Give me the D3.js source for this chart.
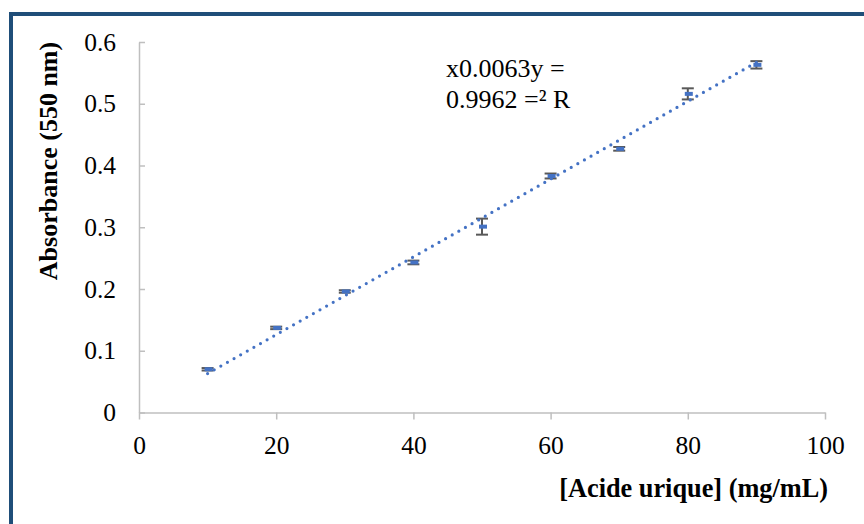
<!DOCTYPE html>
<html>
<head>
<meta charset="utf-8">
<script src="https://cdn.jsdelivr.net/npm/d3@7"></script>
<style>
  body { margin: 0; background: #fff; }
  svg { display: block; font-family: "Liberation Serif", "Times New Roman", serif; }
</style>
</head>
<body>
<svg></svg>
<script>
// calibration: uric acid concentration vs absorbance at 550 nm

let concentration = [10, 20, 30, 40, 50, 60, 70, 80, 90];
let absorbance    = [0.070, 0.137, 0.196, 0.243, 0.301, 0.383, 0.427, 0.516, 0.563];
let errors        = [0.002, 0.002, 0.002, 0.003, 0.013, 0.004, 0.003, 0.009, 0.006];

// linear trendline end points (y = 0.0063x)
let trendX = [10, 90],
    trendY = [0.063, 0.567];

let xTicks      = [0, 20, 40, 60, 80, 100],
    yTicks      = [0, 0.1, 0.2, 0.3, 0.4, 0.5, 0.6],
    yTickLabels = ['0', '0.1', '0.2', '0.3', '0.4', '0.5', '0.6'];

let equation = ['x0.0063y =', '0.9962 =\u00b2 R'];

let width  = 864,
    height = 524;

let xScale = d3.scaleLinear()
               .domain([0, 100])
               .range([139, 825]),
    yScale = d3.scaleLinear()
               .domain([0, 0.6])
               .range([412.5, 42]);

let svg = d3.select('svg')
    .attr('width', width)
    .attr('height', height);

//Frame
svg.append('rect')
    .attr('x', 11)
    .attr('y', 14)
    .attr('width', width + 20)
    .attr('height', height + 20)
    .attr('fill', '#fff')
    .attr('stroke', '#1f4e79')
    .attr('stroke-width', 4);

//X Axis
let xAxis = d3.axisBottom(xScale)
    .tickValues(xTicks)
    .tickFormat(d => d)
    .tickSize(7)
    .tickPadding(16)
    .tickSizeOuter(0);

let gx = svg.append('g')
    .attr('transform', `translate(0, ${yScale(0)})`)
    .call(xAxis);

//Y Axis (ticks point inwards)
let yAxis = d3.axisLeft(yScale)
    .tickValues(yTicks)
    .tickFormat((d, i) => yTickLabels[i])
    .tickSize(-6)
    .tickPadding(23)
    .tickSizeOuter(0);

let gy = svg.append('g')
    .attr('transform', `translate(${xScale(0)}, 0)`)
    .call(yAxis);

[gx, gy].forEach(g => {
  g.attr('font-family', null).attr('font-size', null);
  g.select('.domain').attr('stroke', '#bfbfbf').attr('stroke-width', 1.5);
  g.selectAll('.tick line').attr('stroke', '#bfbfbf').attr('stroke-width', 1.5);
  g.selectAll('.tick text')
    .attr('fill', '#000')
    .attr('font-family', 'Liberation Serif, serif')
    .attr('font-size', 25.5);
});

//Error bars
let data = concentration.map((c, i) => ({ x: c, y: absorbance[i], e: errors[i] }));

let bars = svg.append('g')
    .attr('stroke', '#595959')
    .attr('stroke-width', 2)
  .selectAll('g')
  .data(data)
  .enter()
  .append('g');

bars.append('line')
    .attr('x1', d => xScale(d.x))
    .attr('x2', d => xScale(d.x))
    .attr('y1', d => yScale(d.y + d.e))
    .attr('y2', d => yScale(d.y - d.e));

bars.append('line')
    .attr('x1', d => xScale(d.x) - 6)
    .attr('x2', d => xScale(d.x) + 6)
    .attr('y1', d => yScale(d.y + d.e))
    .attr('y2', d => yScale(d.y + d.e));

bars.append('line')
    .attr('x1', d => xScale(d.x) - 6)
    .attr('x2', d => xScale(d.x) + 6)
    .attr('y1', d => yScale(d.y - d.e))
    .attr('y2', d => yScale(d.y - d.e));

//Markers (short dashes)
svg.append('g')
  .selectAll('rect')
  .data(data)
  .enter()
  .append('rect')
    .attr('x', d => xScale(d.x) - 3)
    .attr('y', d => yScale(d.y) - 2)
    .attr('width', 8)
    .attr('height', 4)
    .attr('fill', '#4472c4');

//Trendline (dotted)
let trend = trendX.map((x, i) => [x, trendY[i]]);

svg.append('path')
    .datum(trend)
    .attr('d', d3.line().x(d => xScale(d[0])).y(d => yScale(d[1])))
    .attr('fill', 'none')
    .attr('stroke', '#4472c4')
    .attr('stroke-width', 3.2)
    .attr('stroke-linecap', 'round')
    .attr('stroke-dasharray', '0 7.6');

//Equation label
svg.append('text')
    .attr('x', 446)
    .attr('y', 77)
    .attr('font-size', '26px')
    .selectAll('tspan')
    .data(equation)
    .enter()
    .append('tspan')
      .attr('x', 446)
      .attr('dy', (d, i) => i === 0 ? 0 : 31)
      .text(d => d);

//Axis titles
svg.append('text')
    .attr('x', 828)
    .attr('y', 497)
    .attr('font-size', '26.3px')
    .attr('font-weight', 'bold')
    .style('text-anchor', 'end')
    .text('[Acide urique] (mg/mL)');

svg.append('text')
    .attr('transform', 'rotate(-90)')
    .attr('x', -161)
    .attr('y', 57)
    .attr('font-size', '26px')
    .attr('font-weight', 'bold')
    .style('text-anchor', 'middle')
    .text('Absorbance (550 nm)');
</script>
</body>
</html>
